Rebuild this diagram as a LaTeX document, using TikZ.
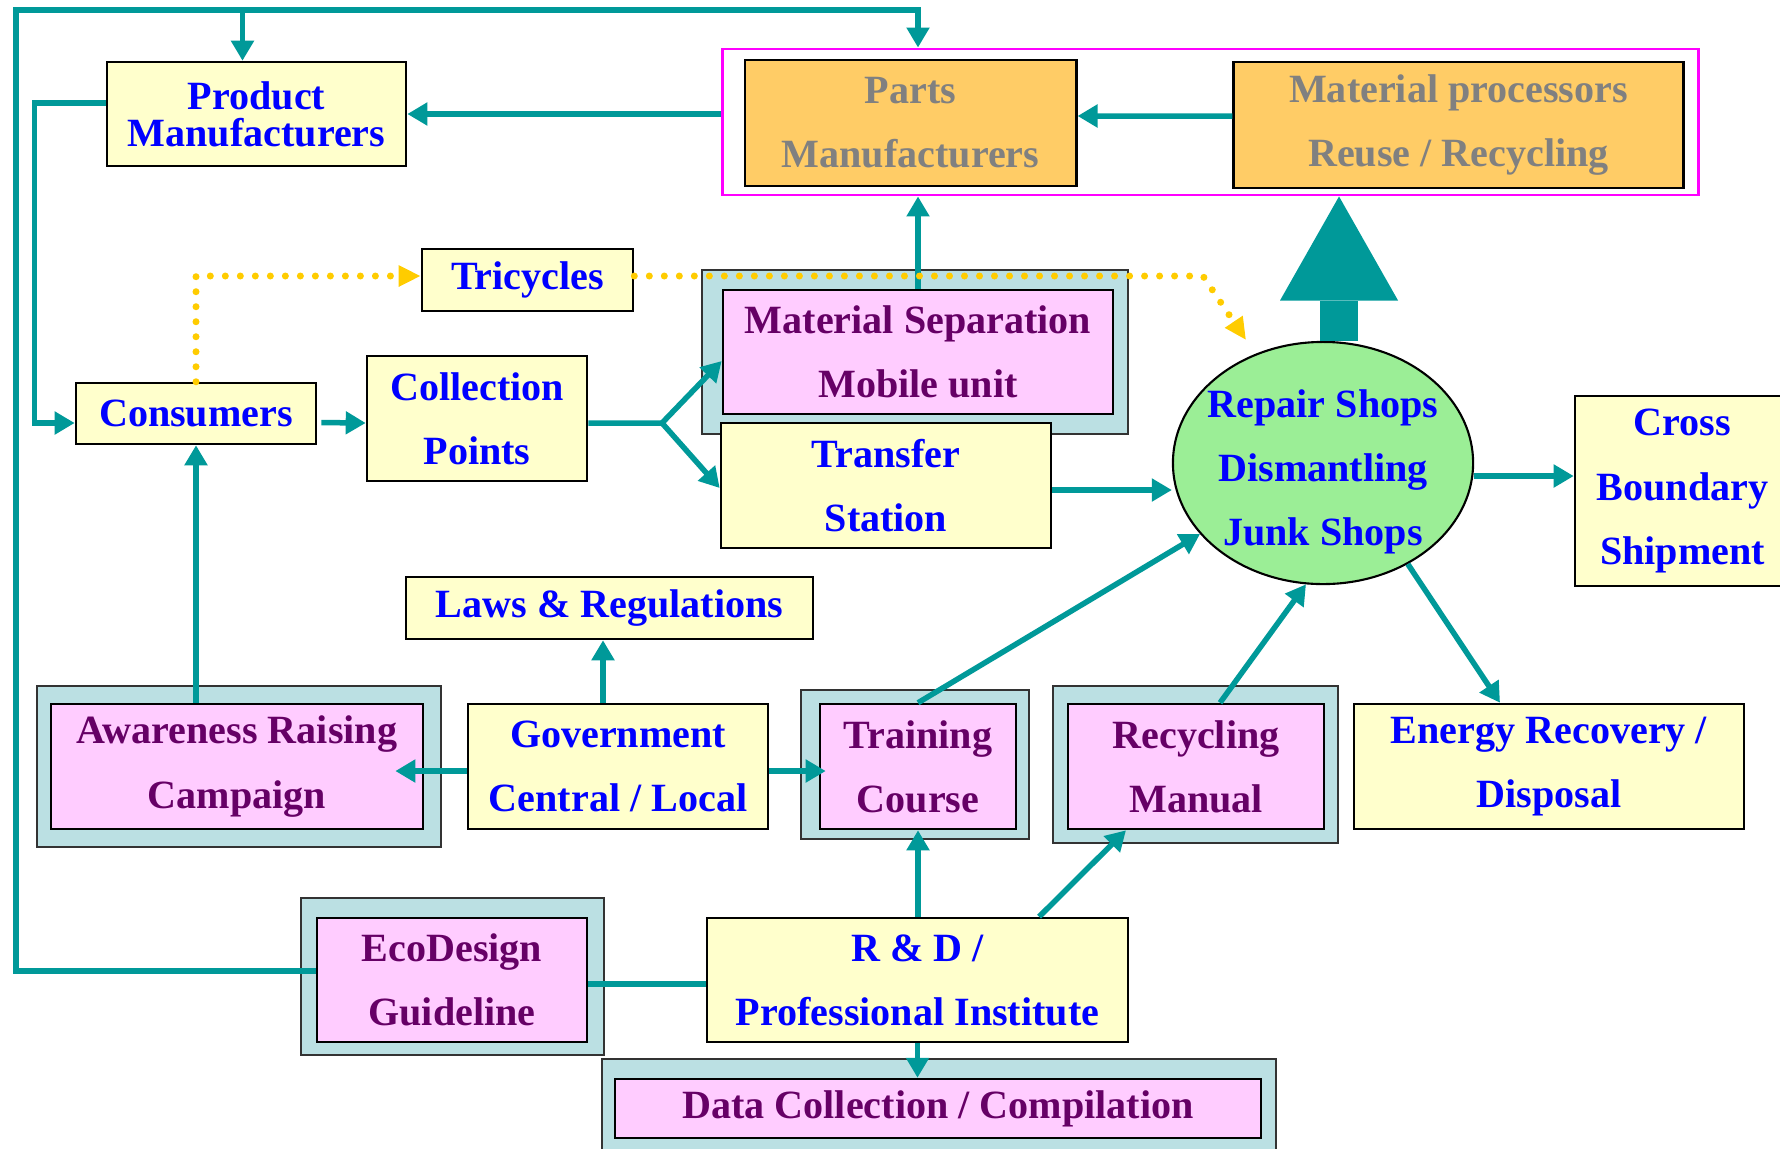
\documentclass[tikz,border=0pt]{standalone}
\usepackage{fontspec}
\setmainfont{Liberation Serif}
\usetikzlibrary{arrows.meta,shapes.geometric}
\definecolor{flowteal}{HTML}{009999}
\definecolor{boxyellow}{HTML}{FFFFCC}
\definecolor{boxpink}{HTML}{FFCCFF}
\definecolor{boxshade}{RGB}{187,224,227}
\definecolor{boxorange}{HTML}{FFCC66}
\definecolor{shopgreen}{RGB}{155,238,150}
\definecolor{textblue}{HTML}{0000FF}
\definecolor{textpurple}{HTML}{660066}
\definecolor{textgray}{HTML}{808080}
\definecolor{dotgold}{HTML}{FFCC00}
\definecolor{framemagenta}{HTML}{FF00FF}

\begin{document}
\begin{tikzpicture}[x=0.01cm,y=-0.01cm,
  every node/.style={font=\bfseries\fontsize{11.4pt}{0.64cm}\selectfont, align=center, inner sep=0pt},
  dims/.style 2 args={minimum width=#1cm, minimum height=#2cm},
  yellowbox/.style={draw=black, line width=0.7pt, fill=boxyellow, text=textblue},
  pinkbox/.style={draw=black, line width=0.7pt, fill=boxpink, text=textpurple},
  orangebox/.style={draw=black, line width=0.8pt, fill=boxorange, text=textgray},
  shadebox/.style={draw=black!80, line width=0.7pt, fill=boxshade},
  flow/.style={draw=flowteal, line width=0.055cm, -{Triangle[length=0.2cm,width=0.22cm]}},
  plainflow/.style={draw=flowteal, line width=0.055cm},
  dotflow/.style={draw=dotgold, line width=0.07cm, line cap=round, dash pattern=on 0pt off 0.15cm, -{Triangle[length=0.22cm,width=0.2cm]}},
]
\useasboundingbox (0,0) rectangle (1780,1148);

% top row: manufacturers
\node[yellowbox, dims={2.99}{1.04}, font=\bfseries\fontsize{11.4pt}{0.37cm}\selectfont] (pm) at (256.5,114) {Product\\Manufacturers};
\node[draw=framemagenta, line width=0.8pt, dims={9.75}{1.46}] (frame) at (1210.5,122) {};
\node[orangebox, dims={3.31}{1.26}] (parts) at (910.5,123) {Parts\\Manufacturers};
\node[orangebox, dims={4.49}{1.26}] (matproc) at (1458.5,125) {Material processors\\Reuse / Recycling};

% middle row: collection and shops
\node[yellowbox, dims={2.11}{0.62}] (tricycles) at (527.5,280) {Tricycles};
\node[yellowbox, dims={2.40}{0.61}] (consumers) at (196,413.5) {Consumers};
\node[yellowbox, dims={2.20}{1.25}] (collection) at (477,418.5) {Collection\\Points};
\node[shadebox, dims={4.26}{1.64}] (msepbg) at (915,352) {};
\node[pinkbox, dims={3.90}{1.24}] (msep) at (918,352) {Material Separation\\Mobile unit};
\node[yellowbox, dims={3.30}{1.25}] (transfer) at (886,485.5) {Transfer\\Station};
\node[ellipse, draw=black, line width=0.6pt, fill=shopgreen, dims={3.00}{2.42}] (ell) at (1323,463) {};
\node[text=textblue] (shops) at (1323,472) {Repair Shops\\Dismantling\\Junk Shops};
\node[yellowbox, dims={2.15}{1.90}] (cross) at (1682.5,491) {Cross\\Boundary\\Shipment};

% lower row: government and support
\node[yellowbox, dims={4.07}{0.62}] (laws) at (609.5,608) {Laws \& Regulations};
\node[shadebox, dims={4.04}{1.61}] (awarebg) at (239,766.5) {};
\node[pinkbox, dims={3.72}{1.25}] (aware) at (237,766.5) {Awareness Raising\\Campaign};
\node[yellowbox, dims={3.00}{1.25}] (gov) at (618,766.5) {Government\\Central / Local};
\node[shadebox, dims={2.28}{1.49}] (trainbg) at (915,764.5) {};
\node[pinkbox, dims={1.96}{1.25}] (train) at (918,766.5) {Training\\Course};
\node[shadebox, dims={2.85}{1.57}] (recycbg) at (1195.5,764.5) {};
\node[pinkbox, dims={2.56}{1.25}] (recyc) at (1196,766.5) {Recycling\\Manual};
\node[yellowbox, dims={3.90}{1.25}] (energy) at (1549,766.5) {Energy Recovery /\\Disposal};

% bottom row: research
\node[shadebox, dims={3.03}{1.57}] (ecobg) at (452.5,976.5) {};
\node[pinkbox, dims={2.70}{1.24}] (eco) at (452,980) {EcoDesign\\Guideline};
\node[yellowbox, dims={4.21}{1.24}] (rd) at (917.5,980) {R \& D /\\Professional Institute};
\node[shadebox, dims={6.74}{1.01}] (databg) at (939,1109.5) {};
\node[pinkbox, dims={6.46}{0.59}] (data) at (938,1108.5) {Data Collection / Compilation};

% feedback loop round the left and the top
\coordinate (loopcorner) at (16,10);
\draw[flow] ([yshift=0.09cm]eco.west) -| (loopcorner) -| (msep.north |- frame.north);
\draw[flow] ([xshift=-0.14cm]pm.north |- loopcorner) -- ([xshift=-0.14cm]pm.north);
\draw[flow] ([yshift=0.11cm]pm.west) -- ++(-71,0) |- ([yshift=-0.095cm]consumers.west);
\draw[flow] (frame.west |- pm.east) -- (pm.east);
\draw[flow] ([yshift=0.09cm]matproc.west) -- ([yshift=0.07cm]parts.east);
\draw[flow] (msep.north) -- (msep.north |- frame.south);
\draw[draw=flowteal, line width=0.38cm, -{Triangle[length=1.04cm,width=1.18cm,line width=0pt]}] ([xshift=0.16cm]ell.north) -- ([xshift=0.16cm]ell.north |- frame.south);

% collection paths
\coordinate (fork) at (662,423);
\draw[flow, shorten <=0.04cm] ([yshift=-0.09cm]consumers.east) -- ([yshift=-0.045cm]collection.west);
\draw[plainflow] ([yshift=-0.045cm]collection.east) -- (fork);
\draw[flow] (fork) -- ([yshift=-0.09cm]msep.west);
\draw[flow] (fork) -- ([yshift=-0.025cm]transfer.west);
\draw[flow] ([yshift=-0.045cm]transfer.east) -- ([yshift=-0.045cm]transfer.east -| ell.west);
\draw[flow] ([yshift=-0.13cm]ell.east) -- ([yshift=-0.13cm]ell.east -| cross.west);

% tricycles
\coordinate (tritip) at (1246,340);
\draw[dotflow] (consumers.north) |- ([yshift=0.04cm]tricycles.west);
\draw[dotflow] ([yshift=0.04cm]tricycles.east) -- (1203,276) -- (tritip);

% government and support
\draw[flow] ([xshift=-0.065cm]laws.south |- gov.north) -- ([xshift=-0.065cm]laws.south);
\draw[flow] ([yshift=-0.045cm]gov.west) -- ([xshift=-0.29cm,yshift=-0.045cm]aware.east);
\draw[flow] ([yshift=-0.045cm]gov.east) -- ([xshift=0.07cm,yshift=-0.045cm]train.west);
\draw[flow] (consumers.south |- aware.north) -- (consumers.south);
\draw[flow] (train.north) -- (ell.210);
\draw[flow] ([xshift=0.24cm]recyc.north) -- (ell.262);
\draw[flow] (ell.310) -- ([xshift=-0.49cm]energy.north);

% research
\draw[flow] (train.south |- rd.north) -- (train.south);
\draw[flow] ([xshift=1.215cm]rd.north) -- ([xshift=-0.7cm]recyc.south);
\draw[flow] (rd.south) -- (rd.south |- data.north);
\draw[plainflow] ([yshift=-0.04cm]eco.east) -- ([yshift=-0.04cm]eco.east -| rd.west);
\end{tikzpicture}
\end{document}
